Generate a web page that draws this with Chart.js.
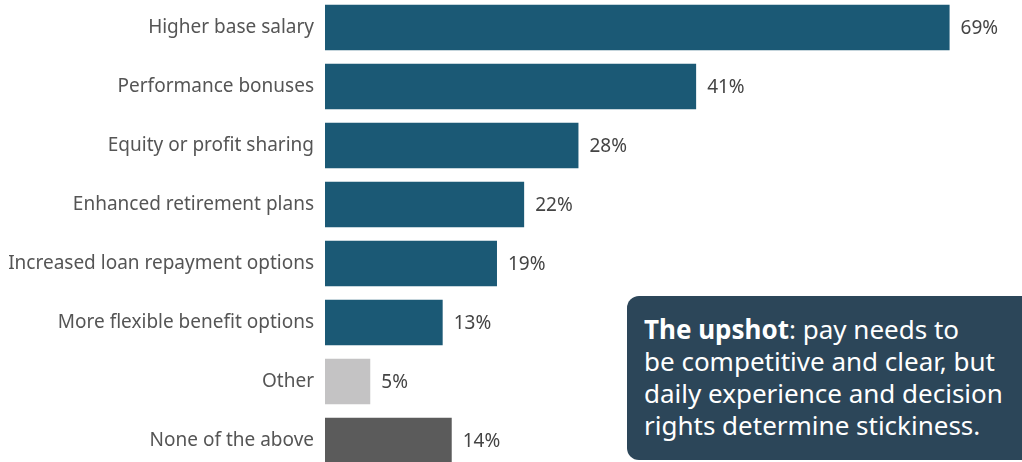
<!DOCTYPE html>
<html>
<head>
<meta charset="utf-8">
<script src="https://cdn.jsdelivr.net/npm/chart.js@4"></script>
<style>
  html, body { margin: 0; padding: 0; background: #fff; overflow: hidden; }
  #wrap { position: relative; width: 1022px; height: 462px; overflow: hidden; }
  #benefitsChart { position: absolute; left: 0; top: -2px; }
  .upshot {
    position: absolute; left: 627px; top: 296px; width: 420px; height: 164px;
    background: #2c4659; border-radius: 12px; box-sizing: border-box;
    padding: 17px 0 0 17px; color: #fff;
    font-family: 'Noto Sans', sans-serif; font-size: 26px; line-height: 32px;
  }
  .upshot b { font-weight: 700; }
</style>
</head>
<body>
<div id="wrap">
  <canvas id="benefitsChart" width="1022" height="472"></canvas>
  <div class="upshot"><b>The upshot</b>: pay needs to<br>be competitive and clear, but<br>daily experience and decision<br>rights determine stickiness.</div>
</div>
<script>
const categories = [
  'Higher base salary',
  'Performance bonuses',
  'Equity or profit sharing',
  'Enhanced retirement plans',
  'Increased loan repayment options',
  'More flexible benefit options',
  'Other',
  'None of the above'
];
const shares = [69, 41, 28, 22, 19, 13, 5, 14];
const barColors = ['#1b5975', '#1b5975', '#1b5975', '#1b5975', '#1b5975', '#1b5975', '#c4c3c4', '#5b5b5b'];

// percentage text just past the end of each bar
const valueLabels = {
  id: 'valueLabels',
  afterDatasetsDraw(chart) {
    const { ctx } = chart;
    const meta = chart.getDatasetMeta(0);
    ctx.save();
    ctx.font = '19px "Noto Sans", sans-serif';
    ctx.fillStyle = '#444';
    ctx.textAlign = 'left';
    ctx.textBaseline = 'middle';
    meta.data.forEach((bar, i) => {
      ctx.fillText(shares[i] + '%', bar.x + 11, bar.y + 1);
    });
    ctx.restore();
  }
};

new Chart(document.getElementById('benefitsChart'), {
  type: 'bar',
  data: {
    labels: categories,
    datasets: [{
      data: shares,
      backgroundColor: barColors,
      borderWidth: 0,
      barPercentage: 0.775,
      categoryPercentage: 1
    }]
  },
  options: {
    indexAxis: 'y',
    responsive: false,
    animation: false,
    layout: { padding: 0 },
    scales: {
      x: {
        display: false,
        min: 0,
        max: 77
      },
      y: {
        grid: { display: false, drawTicks: false },
        border: { display: false },
        ticks: {
          color: '#555',
          font: { family: '"Noto Sans", sans-serif', size: 19 },
          padding: 11
        },
        afterFit(scale) {
          scale.width = 325;
          // bars run edge to edge, no room reserved for label overhang
          scale.paddingTop = 0;
          scale.paddingBottom = 0;
        }
      }
    },
    plugins: {
      legend: { display: false },
      tooltip: { enabled: false }
    }
  },
  plugins: [valueLabels]
});
</script>
</body>
</html>
